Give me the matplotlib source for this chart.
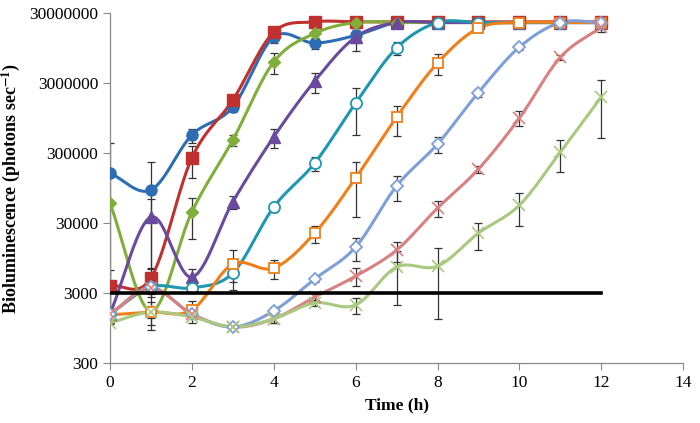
import numpy as np
import matplotlib
matplotlib.use("Agg")
import matplotlib.pyplot as plt
from matplotlib.ticker import FixedLocator, FixedFormatter, NullLocator

plt.rcParams['font.family'] = ['Liberation Serif', 'DejaVu Serif']
plt.rcParams['mathtext.fontset'] = 'stix'

hours = [0, 1, 2, 3, 4, 5, 6, 7, 8, 9, 10, 11, 12]

s1 = [155000, 89000, 542000, 1360000, 13600000, 11200000, 14400000, 22000000, 22000000, 22000000, 22000000, 22000000, 22000000]
e1 = [260000, 134000, 120000, 200000, 2500000, 2000000, 3000000, 0, 0, 0, 0, 0, 0]
s2 = [3780, 4900, 254000, 1710000, 16000000, 22500000, 22500000, 22500000, 22500000, 22500000, 22500000, 22500000, 22500000]
e2 = [2700, 2000, 120000, 0, 0, 0, 0, 0, 0, 0, 0, 0, 0]
s3 = [58000, 1660, 43000, 460000, 6000000, 15400000, 22000000, 22000000, 22000000, 22000000, 22000000, 22000000, 22000000]
e3 = [0, 600, 25000, 80000, 2000000, 1000000, 0, 0, 0, 0, 0, 0, 0]
s4 = [1500, 36500, 5060, 60000, 509000, 3200000, 13600000, 22000000, 22000000, 22000000, 22000000, 22000000, 22000000]
e4 = [0, 30000, 1500, 12000, 150000, 1000000, 5000000, 0, 0, 0, 0, 0, 0]
s5 = [1500, 3650, 3550, 5780, 50600, 215000, 1550000, 9500000, 22000000, 22000000, 22000000, 22000000, 22000000]
e5 = [0, 1000, 500, 1500, 8000, 50000, 1000000, 2000000, 0, 0, 0, 0, 0]
s6 = [1460, 1600, 1710, 7770, 6800, 21500, 132000, 978000, 5800000, 18300000, 22000000, 22000000, 22000000]
e6 = [0, 300, 600, 4500, 2000, 6000, 95000, 450000, 1900000, 1000000, 0, 0, 0]
s7 = [1500, 3600, 1500, 980, 1660, 4750, 13600, 101000, 403000, 2200000, 9800000, 22000000, 22000000]
e7 = [0, 0, 0, 0, 200, 500, 5000, 40000, 100000, 300000, 1000000, 0, 0]
s8 = [1500, 3500, 1500, 980, 1280, 2620, 5220, 12300, 49000, 177000, 949000, 7000000, 19000000]
e8 = [0, 0, 0, 0, 150, 300, 1500, 4000, 12000, 20000, 230000, 500000, 3000000]
s9 = [1120, 1600, 1360, 980, 1280, 2160, 2020, 7040, 7260, 21500, 54000, 310000, 1900000]
e9 = [0, 0, 0, 0, 150, 200, 500, 5000, 6000, 9000, 27000, 150000, 1400000]

threshold = 3000
threshold_span = [0, 12]

series = [
    (s1, e1, '#2E6DB4', 'o', True, 8),
    (s2, e2, '#C0302F', 's', True, 9),
    (s3, e3, '#7FAE3A', 'D', True, 6),
    (s4, e4, '#6A4A9C', '^', True, 8),
    (s5, e5, '#1F97B0', 'o', False, 8),
    (s6, e6, '#F07F1A', 's', False, 7),
    (s7, e7, '#7F9FD8', 'D', False, 6),
    (s8, e8, '#D98080', 'x', False, 8),
    (s9, e9, '#A8C97F', 'x', False, 8),
]


def smooth(x, y, n=30):
    x = np.asarray(x, float)
    y = np.log10(np.asarray(y, float))
    px = np.concatenate([[2 * x[0] - x[1]], x, [2 * x[-1] - x[-2]]])
    py = np.concatenate([[2 * y[0] - y[1]], y, [2 * y[-1] - y[-2]]])
    xs, ys = [], []
    t = np.linspace(0, 1, n)
    for i in range(1, len(px) - 2):
        p0, p1, p2, p3 = px[i - 1], px[i], px[i + 1], px[i + 2]
        q0, q1, q2, q3 = py[i - 1], py[i], py[i + 1], py[i + 2]
        cx = 0.5 * ((2 * p1) + (-p0 + p2) * t + (2 * p0 - 5 * p1 + 4 * p2 - p3) * t**2 + (-p0 + 3 * p1 - 3 * p2 + p3) * t**3)
        cy = 0.5 * ((2 * q1) + (-q0 + q2) * t + (2 * q0 - 5 * q1 + 4 * q2 - q3) * t**2 + (-q0 + 3 * q1 - 3 * q2 + q3) * t**3)
        xs.append(cx)
        ys.append(cy)
    return np.concatenate(xs), 10 ** np.concatenate(ys)


fig = plt.figure(figsize=(7, 4.23), dpi=100)
ax = fig.add_axes([0.157, 0.142, 0.819, 0.827])
ax.set_yscale('log')

for vals, errs, col, mk, filled, ms in series:
    v = np.asarray(vals, float)
    e = np.asarray(errs, float)
    lower = np.minimum(e, v * 0.99)
    ax.errorbar(hours, v, yerr=[lower, e], fmt='none', ecolor='#333333',
                elinewidth=0.9, capsize=3, capthick=0.9, zorder=2)
    sx, sy = smooth(hours, vals)
    ax.plot(sx, sy, color=col, lw=2.2, zorder=3)
    if mk == 'x':
        ax.plot(hours, v, linestyle='none', marker='x', ms=ms, mew=1.2,
                color=col, zorder=4)
    elif filled:
        ax.plot(hours, v, linestyle='none', marker=mk, ms=ms, color=col,
                mec=col, zorder=4)
    else:
        ax.plot(hours, v, linestyle='none', marker=mk, ms=ms, mfc='white',
                mec=col, mew=1.3, zorder=4)

ax.plot(threshold_span, [threshold, threshold], color='black', lw=2.6, zorder=5)

ax.set_xlim(0, 14)
ax.set_ylim(300, 30000000)
ax.set_xticks([0, 2, 4, 6, 8, 10, 12, 14])
yt = [300, 3000, 30000, 300000, 3000000, 30000000]
ax.yaxis.set_major_locator(FixedLocator(yt))
ax.yaxis.set_major_formatter(FixedFormatter([str(v) for v in yt]))
ax.yaxis.set_minor_locator(NullLocator())

for s in ['top', 'right']:
    ax.spines[s].set_visible(False)
for s in ['left', 'bottom']:
    ax.spines[s].set_color('#888888')
    ax.spines[s].set_linewidth(0.9)
ax.tick_params(axis='both', direction='out', length=5, color='#888888',
               labelsize=12.5, labelcolor='black')

ax.set_xlabel('Time (h)', fontsize=12.5, fontweight='bold', labelpad=5)
ax.set_ylabel('Bioluminescence (photons sec$^{\\mathbf{-1}}$)', fontsize=13,
              fontweight='bold', labelpad=5)

fig.savefig('out.png', dpi=100)
